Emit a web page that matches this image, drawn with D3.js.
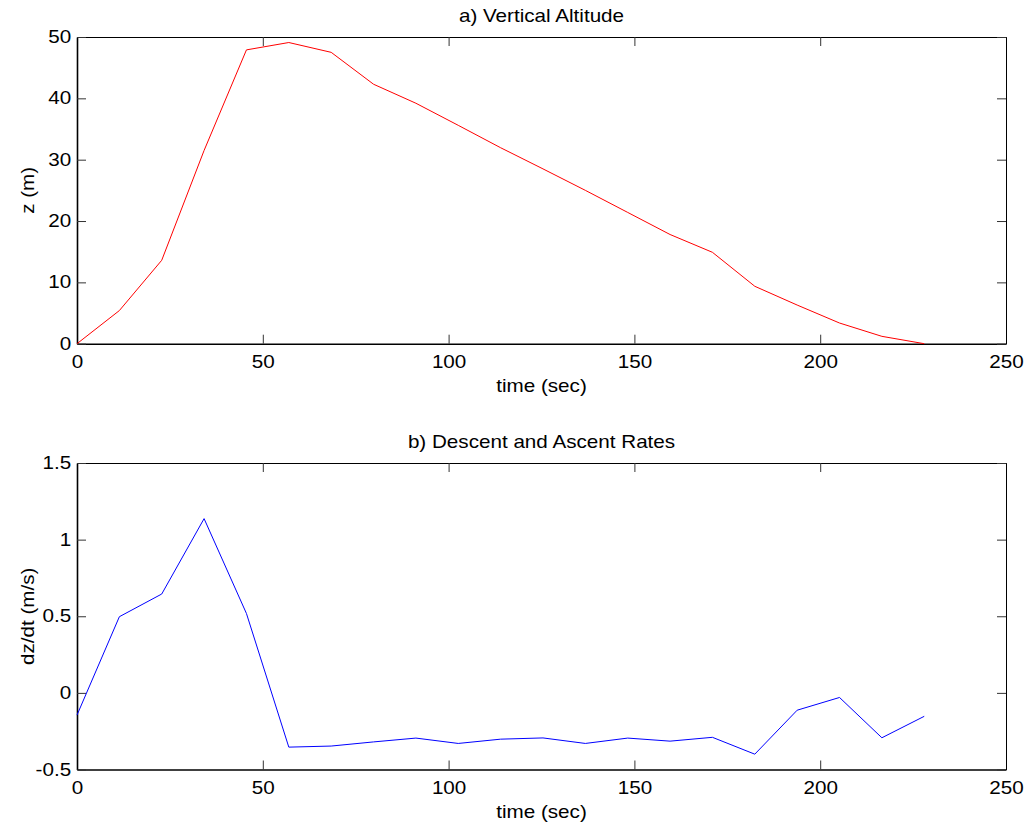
<!DOCTYPE html>
<html>
<head>
<meta charset="utf-8">
<script src="https://cdn.jsdelivr.net/npm/d3@7"></script>
<style>
  html, body { margin: 0; padding: 0; background: #fff; }
  svg text { font-family: "Liberation Sans", Arial, Helvetica, sans-serif; fill: #000; }
</style>
</head>
<body>
<svg id="fig" width="1025" height="829"></svg>
<script>
// Sample times (s)
const time = [0, 11.4, 22.8, 34.2, 45.6, 57, 68.4, 79.8, 91.2, 102.6, 114,
              125.4, 136.8, 148.2, 159.6, 171, 182.4, 193.8, 205.2, 216.6, 228];
// Altitude z (m)
const altitude = [0, 5.4, 13.6, 31.5, 47.9, 49.1, 47.5, 42.3, 39.2, 35.6, 31.95,
                  28.5, 25.0, 21.4, 17.8, 14.9, 9.36, 6.3, 3.37, 1.2, 0];
// Vertical rate dz/dt (m/s)
const rate = [-0.145, 0.497, 0.645, 1.137, 0.518, -0.354, -0.347, -0.32, -0.295, -0.33, -0.302,
              -0.294, -0.33, -0.295, -0.315, -0.29, -0.40, -0.113, -0.03, -0.293, -0.153];

const xTicks = [0, 50, 100, 150, 200, 250];
const zTicks = [0, 10, 20, 30, 40, 50];
const rateTicks = [-0.5, 0, 0.5, 1, 1.5];

const svg = d3.select("#fig");
const left = 77, right = 1006;
const fontSize = 17.5;
const stretch = 1.18;   // wide-set lettering

function panel(cfg) {
  const x = d3.scaleLinear().domain([0, 250]).range([left, right]);
  const y = d3.scaleLinear().domain(cfg.yDomain).range([cfg.bottom, cfg.top]);
  const g = svg.append("g");
  const tick = 9;

  // inward ticks on all four sides
  const bx = g.append("g").attr("transform", `translate(0,${cfg.bottom})`)
    .call(d3.axisBottom(x).tickValues(xTicks).tickSizeInner(-tick).tickSizeOuter(0).tickPadding(12).tickFormat(d3.format("d")));
  const tx = g.append("g").attr("transform", `translate(0,${cfg.top})`)
    .call(d3.axisTop(x).tickValues(xTicks).tickSizeInner(-tick).tickSizeOuter(0).tickFormat(""));
  const ly = g.append("g").attr("transform", `translate(${left},0)`)
    .call(d3.axisLeft(y).tickValues(cfg.yTicks).tickSizeInner(-tick).tickSizeOuter(0).tickPadding(5).tickFormat(cfg.fmt));
  const ry = g.append("g").attr("transform", `translate(${right},0)`)
    .call(d3.axisRight(y).tickValues(cfg.yTicks).tickSizeInner(-tick).tickSizeOuter(0).tickFormat(""));

  [bx, tx, ly, ry].forEach(a => {
    a.selectAll("text").style("font-size", fontSize + "px").attr("fill", "#000")
      .style("font-family", '"Liberation Sans", Arial, sans-serif')
      .attr("transform", `scale(${stretch},1)`);
    a.selectAll(".tick line").attr("stroke", "#333").attr("stroke-width", 1);
    a.select(".domain").attr("stroke", "#000").attr("stroke-width", 1);
  });
  bx.select(".domain").attr("stroke-width", 1.6);
  ly.select(".domain").attr("stroke-width", 1.6);

  // data line
  const line = d3.line().x((d, i) => x(time[i])).y(d => y(d));
  g.append("path").datum(cfg.values)
    .attr("fill", "none").attr("stroke", cfg.color).attr("stroke-width", 1)
    .attr("d", line);

  const cx = (left + right) / 2;
  // title
  g.append("text").attr("transform", `translate(${cx},${cfg.top - 15}) scale(${stretch},1)`)
    .attr("text-anchor", "middle").style("font-size", fontSize + "px").text(cfg.title);
  // x label
  g.append("text").attr("transform", `translate(${cx},${cfg.bottom + 48.5}) scale(${stretch},1)`)
    .attr("text-anchor", "middle").style("font-size", fontSize + "px").text("time (sec)");
  // y label
  g.append("text")
    .attr("transform", `translate(34,${(cfg.top + cfg.bottom) / 2}) rotate(-90) scale(${stretch},1)`)
    .attr("text-anchor", "middle").style("font-size", fontSize + "px").text(cfg.ylabel);
}

panel({
  top: 37, bottom: 343.7, yDomain: [0, 50], yTicks: zTicks, fmt: d3.format("d"),
  values: altitude, color: "#ff0000", title: "a) Vertical Altitude", ylabel: "z (m)"
});
panel({
  top: 463, bottom: 769.5, yDomain: [-0.5, 1.5], yTicks: rateTicks, fmt: d => String(d),
  values: rate, color: "#0000ff", title: "b) Descent and Ascent Rates", ylabel: "dz/dt (m/s)"
});
</script>
</body>
</html>
